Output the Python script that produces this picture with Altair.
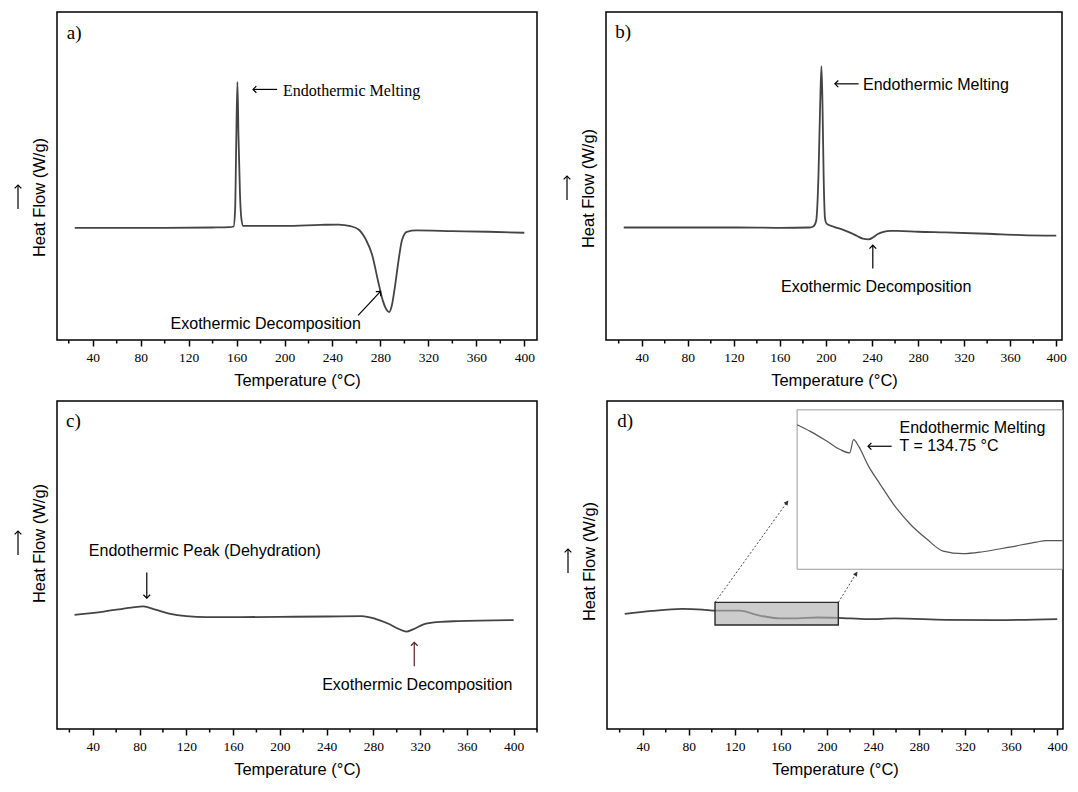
import altair as alt
import pandas as pd

# ---------------- data ----------------
MAJOR_TICKS = [40, 80, 120, 160, 200, 240, 280, 320, 360, 400]
MINOR_TICKS = [20, 60, 100, 140, 180, 220, 260, 300, 340, 380, 420]

# panel a
a_temp = [25, 60, 100, 140, 154, 157.5, 158.8, 159.7, 160.7, 161.6, 162.8, 164, 165.5,
          200, 230, 245, 255, 262, 268, 273, 278, 282, 285, 287.3, 289.5, 292, 295, 298,
          302, 310, 340, 370, 400]
a_heat = [34.2, 34.2, 34.2, 34.3, 34.4, 34.6, 40, 60, 78.7, 62, 45, 37, 34.8,
          34.8, 35.1, 35.2, 34.7, 33.6, 30.5, 26.1, 18, 12, 9.3, 8.5, 10.5, 16, 24, 30.5,
          33.0, 33.4, 33.2, 33.0, 32.7]

# panel b
b_temp = [24.4, 60, 120, 160, 186, 189, 191.5, 193.5, 195, 196.1, 197, 198, 199.2, 200.5,
          207, 215, 222, 227, 232, 237.2, 241, 245, 250, 256, 262, 280, 303, 340, 370, 400]
b_heat = [34.3, 34.3, 34.3, 34.2, 34.3, 34.6, 36.3, 50, 72, 83.5, 72, 50, 37, 35.5,
          34.5, 33.6, 32.6, 31.7, 30.9, 30.7, 31.3, 32.3, 33.0, 33.3, 33.3, 33.0, 32.8, 32.4,
          32.0, 31.8]

# panel c
c_temp = [24.4, 49.4, 73, 83.2, 93.5, 105.3, 120, 137.6, 160, 200, 240, 270, 281.7, 293.5,
          302.3, 308.2, 314, 323, 334.7, 352.3, 400]
c_heat = [34.8, 35.8, 37.0, 37.4, 36.4, 35.2, 34.4, 34.1, 34.1, 34.2, 34.3, 34.4, 33.6, 32.0,
          30.4, 29.7, 30.4, 31.9, 32.6, 32.9, 33.2]

# panel d
d_temp = [24.4, 47.9, 74.3, 91.9, 103.7, 124.2, 138.9, 159.4, 174.1, 191.7, 209.3, 235.7,
          259.2, 303.2, 347.2, 400]
d_heat = [35.1, 36.0, 36.6, 36.4, 36.1, 36.1, 34.8, 33.7, 33.7, 34.0, 33.9, 33.5,
          33.7, 33.3, 33.2, 33.5]

# panel d inset (zoomed region 103-210 C, relative heat flow 0-100)
ins_temp = [103.0, 108.3, 115.0, 120.3, 124.1, 125.7, 127.7, 131.7, 136.4, 141.7, 148.4,
            155.0, 161.7, 169.7, 177.7, 188.4, 199.1, 203.1, 209.7]
ins_heat = [90.7, 86.5, 80.3, 75.1, 73.0, 81.3, 77.2, 64.7, 53.3, 40.9, 28.4,
            19.1, 11.4, 9.8, 11.0, 13.9, 17.0, 18.0, 18.0]
ins_temp_range = [103.0, 209.7]
ins_heat_range = [0, 100]
ins_box = [174.1, 404.6, 48.7, 97.3]      # inset frame, in panel d data units
zoom_box = [102.8, 209.9, 31.7, 38.6]     # highlighted region on the d curve

SANS = "Liberation Sans"
SERIF = "Liberation Serif"
H = 328
YS = alt.Scale(domain=[0, 100], nice=False, zero=False)
HEAD = "M-1,1L0,0L1,1"


def make_panel(tag, temp, heat, xdom, width, yshift, texts, arrows, dotted=None, extra=None):
    xs = alt.Scale(domain=xdom, nice=False, zero=False)
    xaxis = alt.Axis(values=MAJOR_TICKS, title="Temperature (°C)", grid=False, domain=False,
                     tickColor="black", tickWidth=1.5, tickSize=6,
                     labelFont=SERIF, labelFontSize=13.5, labelColor="black", labelPadding=4,
                     labelFlush=False,
                     titleFont=SANS, titleFontSize=16.5, titleFontWeight="normal",
                     titleColor="black", titlePadding=9)
    yaxis = alt.Axis(title="Heat Flow (W/g)", labels=False, ticks=False, domain=False,
                     grid=False, titleFont=SANS, titleFontSize=16.5, titleFontWeight="normal",
                     titleColor="black", titlePadding=10, titleY=H / 2 + yshift)
    X = lambda f: alt.X(f, scale=xs, axis=xaxis, title="Temperature (°C)")
    Y = lambda f: alt.Y(f, scale=YS, axis=yaxis, title="Heat Flow (W/g)")

    df = pd.DataFrame({"T": temp, "v": heat})
    layers = [alt.Chart(df).mark_line(color="#444444", strokeWidth=1.8, interpolate="monotone")
              .encode(x=X("T:Q"), y=Y("v:Q"))]

    minor = [t for t in MINOR_TICKS if xdom[0] <= t <= xdom[1]]
    layers.append(alt.Chart(pd.DataFrame({"T": minor})).mark_rule(color="black", strokeWidth=1.5)
                  .encode(x=X("T:Q"), y=alt.value(H), y2=alt.value(H + 3.5)))

    if extra:
        layers.extend(extra(X, Y))

    for (label, t, v, font, size, align) in texts:
        layers.append(alt.Chart(pd.DataFrame({"T": [t], "v": [v], "s": [label]}))
                      .mark_text(font=font, fontSize=size, align=align, baseline="middle",
                                 color="black")
                      .encode(x=X("T:Q"), y=Y("v:Q"), text="s:N"))

    adf = pd.DataFrame(arrows, columns=["T1", "v1", "T2", "v2", "ang", "col"])
    layers.append(alt.Chart(adf).mark_rule(strokeWidth=1.2)
                  .encode(x=X("T1:Q"), y=Y("v1:Q"), x2="T2:Q", y2="v2:Q",
                          color=alt.Color("col:N", scale=None)))
    layers.append(alt.Chart(adf).mark_point(shape=HEAD, filled=False, strokeWidth=1.2, size=45,
                                            opacity=1)
                  .encode(x=X("T2:Q"), y=Y("v2:Q"), angle=alt.Angle("ang:Q", scale=None),
                          color=alt.Color("col:N", scale=None)))
    if dotted:
        ddf = pd.DataFrame(dotted, columns=["T1", "v1", "T2", "v2", "ang", "col"])
        layers.append(alt.Chart(ddf).mark_rule(strokeWidth=0.9, strokeDash=[2, 2], color="#333333")
                      .encode(x=X("T1:Q"), y=Y("v1:Q"), x2="T2:Q", y2="v2:Q"))
        layers.append(alt.Chart(ddf).mark_point(shape="M-1,1L0,-1L1,1Z", filled=True, size=22,
                                                color="#333333", opacity=1)
                      .encode(x=X("T2:Q"), y=Y("v2:Q"), angle=alt.Angle("ang:Q", scale=None)))

    # arrow beside the y-axis title
    yc = H / 2 + yshift
    layers.append(alt.Chart(pd.DataFrame({"k": [0]})).mark_rule(color="black", strokeWidth=1.2)
                  .encode(x=alt.value(-39), y=alt.value(yc + 12), y2=alt.value(yc - 12)))
    layers.append(alt.Chart(pd.DataFrame({"k": [0]}))
                  .mark_point(shape=HEAD, filled=False, strokeWidth=1.2, size=45, color="black",
                              opacity=1, angle=0)
                  .encode(x=alt.value(-39), y=alt.value(yc - 12)))

    layers.append(alt.Chart(pd.DataFrame({"T": [tag[1]], "v": [tag[2]], "s": [tag[0]]}))
                  .mark_text(font=SERIF, fontSize=19, align="left", baseline="middle",
                             color="black")
                  .encode(x=X("T:Q"), y=Y("v:Q"), text="s:N"))
    return alt.layer(*layers).properties(width=width, height=H)


def d_extra(X, Y):
    box = pd.DataFrame({"x1": [zoom_box[0]], "x2": [zoom_box[1]],
                        "y1": [zoom_box[2]], "y2": [zoom_box[3]]})
    frame = pd.DataFrame({"x1": [ins_box[0]], "x2": [ins_box[1]],
                          "y1": [ins_box[2]], "y2": [ins_box[3]]})
    ins = pd.DataFrame({"t": ins_temp, "h": ins_heat})
    tx = (f"{ins_box[0]} + (datum.t - {ins_temp_range[0]}) / "
          f"({ins_temp_range[1]} - {ins_temp_range[0]}) * ({ins_box[1]} - {ins_box[0]})")
    ty = (f"{ins_box[2]} + (datum.h - {ins_heat_range[0]}) / "
          f"({ins_heat_range[1]} - {ins_heat_range[0]}) * ({ins_box[3]} - {ins_box[2]})")
    return [
        alt.Chart(box).mark_rect(fill="#b0b0b0", fillOpacity=0.65, stroke="#2a2a2a",
                                 strokeWidth=1.4)
        .encode(x=X("x1:Q"), x2="x2:Q", y=Y("y1:Q"), y2="y2:Q"),
        alt.Chart(frame).mark_rect(fill="white", stroke="#9a9a9a", strokeWidth=1)
        .encode(x=X("x1:Q"), x2="x2:Q", y=Y("y1:Q"), y2="y2:Q"),
        alt.Chart(ins).transform_calculate(T=tx, v=ty)
        .mark_line(color="#555555", strokeWidth=1.2, interpolate="monotone")
        .encode(x=X("T:Q"), y=Y("v:Q")),
    ]


pa = make_panel(("a)", 18.4, 93.5), a_temp, a_heat, [10.2, 410.6], 480, 21,
                [("Endothermic Melting", 198.7, 75.9, SERIF, 16, "left"),
                 ("Exothermic Decomposition", 184.3, 5.0, SANS, 16, "center")],
                [(193.8, 76.4, 173.7, 76.4, 270, "black"),
                 (261.4, 7.5, 280.1, 14.8, 43, "black")])

pb = make_panel(("b)", 17.1, 94.0), b_temp, b_heat, [9.0, 405.0], 456, 12,
                [("Endothermic Melting", 232.2, 77.8, SANS, 16, "left"),
                 ("Exothermic Decomposition", 243.6, 16.1, SANS, 16, "center")],
                [(228.4, 78.1, 207.8, 78.1, 270, "black"),
                 (240.7, 21.8, 240.7, 28.9, 0, "black")])

pc = make_panel(("c)", 17.1, 94.0), c_temp, c_heat, [9.4, 420.0], 480, -22,
                [("Endothermic Peak (Dehydration)", 135.9, 54.2, SANS, 16, "center"),
                 ("Exothermic Decomposition", 317.6, 13.5, SANS, 16, "center")],
                [(86.2, 47.7, 86.2, 39.9, 180, "black"),
                 (315.0, 19.1, 315.0, 26.4, 0, "#5a1e1e")])

pd_ = make_panel(("d)", 18.0, 93.8), d_temp, d_heat, [9.0, 405.0], 456, -4,
                 [("Endothermic Melting", 263.0, 91.7, SANS, 16, "left"),
                  ("T = 134.75 °C", 263.0, 86.2, SANS, 16, "left")],
                 [(256.2, 86.2, 235.7, 86.2, 270, "black")],
                 dotted=[(102.8, 38.6, 165.3, 69.1, 36, "#333333"),
                         (209.9, 38.6, 225.4, 47.4, 32, "#333333")],
                 extra=d_extra)

top = alt.hconcat(pa, pb, spacing=22)
bottom = alt.hconcat(pc, pd_, spacing=22)
chart = (alt.vconcat(top, bottom, spacing=10)
         .properties(padding={"left": 3, "top": 3, "right": 0, "bottom": 0})
         .configure(background="white")
         .configure_view(stroke="black", strokeWidth=1.5))

chart.save("out.html", embed_options={"renderer": "svg", "actions": False})
